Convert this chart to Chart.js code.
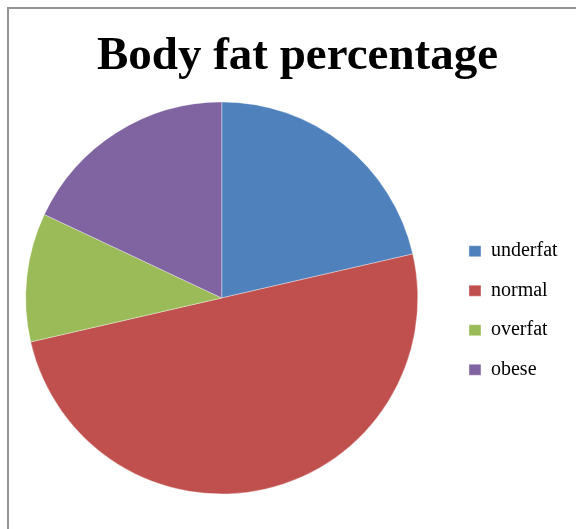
<!DOCTYPE html>
<html>
<head>
<meta charset="utf-8">
<script src="https://cdn.jsdelivr.net/npm/chart.js@4/dist/chart.umd.min.js"></script>
<style>
    body { margin: 0; background: #fff; }
    #wrap { position: relative; width: 576px; height: 529px; overflow: hidden; }
    #frame {
        position: absolute; left: 7px; top: 7px; right: -10px; bottom: -10px;
        border-left: 2px solid #959595; border-top: 2px solid #959595;
    }
    #myChart { position: absolute; left: 0; top: 0; }
</style>
</head>
<body>
<div id="wrap">
    <div id="frame"></div>
    <canvas id="myChart" width="576" height="529"></canvas>
</div>
<script>
const categories = ['underfat', 'normal', 'overfat', 'obese'];
const shares = [21.4, 50, 10.6, 18];
const sliceColors = ['#4F81BD', '#C0504D', '#9BBB59', '#8064A2'];

// nudge the pie left of the space the legend leaves, like the original
const pieShiftX = -16.7;
const shiftPie = {
    id: 'shiftPie',
    afterLayout(chart) {
        const area = chart.chartArea;
        area.left += pieShiftX;
        area.right += pieShiftX;
    }
};

window.onload = function() {
    const ctx = document.getElementById('myChart').getContext('2d');
    new Chart(ctx, {
        type: 'pie',
        data: {
            labels: categories,
            datasets: [{
                data: shares,
                backgroundColor: sliceColors,
                borderColor: 'rgba(255, 255, 255, 0.35)',
                borderWidth: 1
            }]
        },
        options: {
            responsive: false,
            animation: false,
            devicePixelRatio: 1,
            layout: {
                padding: { left: 27.4, right: 8.4, top: 0, bottom: 34.5 }
            },
            plugins: {
                title: {
                    display: true,
                    text: 'Body fat percentage',
                    color: '#000',
                    font: { family: 'Liberation Serif', size: 47, weight: 'bold', lineHeight: 1.2 },
                    padding: { top: 29, bottom: 16 }
                },
                legend: {
                    position: 'right',
                    fullSize: false,
                    // empty title only pushes the items down a little
                    title: {
                        display: true,
                        text: ' ',
                        font: { size: 10, lineHeight: 1 },
                        padding: { top: 7.5, bottom: 7.5 }
                    },
                    labels: {
                        boxWidth: 12,
                        boxHeight: 11,
                        padding: 19.5,
                        color: '#000',
                        font: { family: 'Liberation Serif', size: 20 }
                    }
                },
                tooltip: { enabled: false }
            }
        },
        plugins: [shiftPie]
    });
};
</script>
</body>
</html>
